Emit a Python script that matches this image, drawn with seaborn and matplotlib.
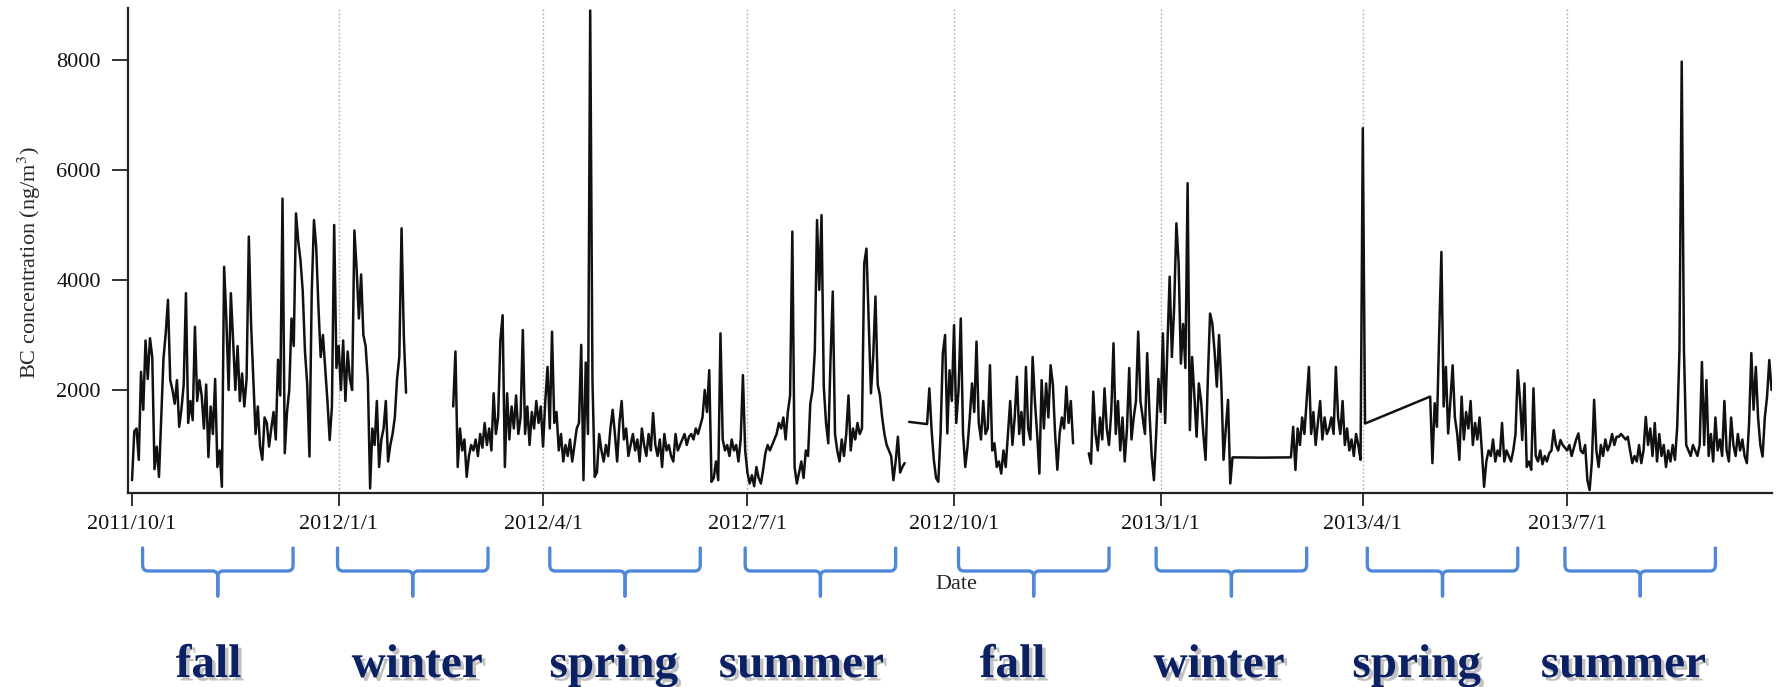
import matplotlib
matplotlib.use("Agg")
import matplotlib.pyplot as plt
import matplotlib.dates as mdates
import matplotlib.patheffects as pe
import matplotlib.transforms as mtransforms
from matplotlib.path import Path
from matplotlib.patches import PathPatch
import numpy as np
import pandas as pd
import seaborn as sns

nan = np.nan

# daily BC concentration (ng/m3); each segment is one unbroken trace
seg1_start = "2011-10-01"
seg1_bc = [
    360, 1250, 1300, 730, 2330, 1640, 2900, 2200, 2940, 2600,
    560, 970, 420, 1500, 2575, 3030, 3640, 2180, 2000, 1750,
    2180, 1330, 1650, 2100, 3760, 1400, 1800, 1450, 3150, 1800,
    2180, 1900, 1300, 2100, 780, 1700, 1200, 2200, 600, 900,
    240, 4240, 3270, 2000, 3760, 2900, 2000, 2800, 1800, 2300,
    1700, 2200, 4790, 3200, 2200, 1200, 1700, 970, 730, 1500,
    1400, 970, 1300, 1600, 1100, 2550, 1900, 5480, 850, 1600,
    2000, 3300, 2800, 5210, 4700, 4360, 3800, 2700, 2100, 790,
    3760, 5090, 4600, 3500, 2600, 3000, 2400, 1800, 1090, 1700,
    5000, 2400, 2800, 2000, 2900, 1800, 2700, 2200, 2000, 4900,
    4200, 3300, 4100, 3000, 2800, 2180, 210, 1300, 1000, 1800,
    600, 1100, 1300, 1800, 700, 1000, 1200, 1500, 2200, 2600,
    4940, 3000, 1950,
]

seg2_start = "2012-02-21"
seg2_bc = [
    1700, 2700, 600, 1300, 900, 1100, 420, 800, 1000, 900,
    1100, 800, 1200, 950, 1400, 1000, 1300, 900, 1940, 1200,
    1500, 2900, 3360, 600, 1940, 1100, 1700, 1300, 1900, 1200,
    1500, 3090, 1200, 1700, 1000, 1600, 1300, 1800, 1400, 1700,
    970, 1800, 2420, 1300, 3060, 1400, 1600, 900, 1200, 700,
    1000, 800, 1100, 700, 1000, 1300, 1400, 2820, 360, 2500,
    1200, 8900, 2180, 420, 500, 1200, 900, 700, 1000, 800,
    1300, 1640, 1200, 700, 1400, 1800, 1100, 1300, 800, 1000,
    1200, 900, 1100, 700, 1300, 1000, 800, 1200, 900, 1580,
    1000, 800, 1100, 600, 1200, 900, 1000, 800, 700, 1200,
    900, 1000, 1100, 1200, 1000, 1150, 1200, 1100, 1300, 1200,
    1350, 1500, 2000, 1600, 2360, 330, 400, 700, 360, 3030,
    1100, 900, 1000, 800, 1100, 900, 1000, 700, 1100, 2270,
    900, 500, 300, 450, 250, 600, 400, 300, 550, 850,
    1000, 900, 1000, 1100, 1200, 1400, 1300, 1500, 1100, 1600,
    1900, 4880, 600, 300, 500, 700, 400, 900, 800, 1750,
    2000, 2700, 5090, 3820, 5180, 2060, 1400, 1030, 2550, 3790,
    1200, 900, 700, 1100, 800, 1200, 1900, 900, 1300, 1100,
    1400, 1200, 1300, 4300, 4570, 3240, 1940, 2600, 3700, 2100,
    1900, 1500, 1200, 1000, 900, 800, 360, 700, 1150, 500,
    600, 670,
]

seg3_start = "2012-09-11"
seg3_bc = [1420] + [nan] * 7 + [1380] + [
    2030, 1270, 730, 400, 330, 1210, 2670, 3000, 1210, 2360,
    1800, 3180, 1400, 2000, 3300, 1210, 600, 970, 1500, 2120,
    1600, 2880, 1400, 1100, 1800, 1200, 1300, 2450, 900, 1030,
    600, 700, 480, 900, 600, 1200, 1800, 1000, 1500, 2240,
    1200, 1600, 1000, 2420, 1300, 1100, 2600, 1800, 1200, 480,
    2180, 1300, 2120, 1500, 2450, 2100, 1200, 550, 1200, 1500,
    1300, 2060, 1400, 1800, 1030,
]

seg4_start = "2012-11-30"
seg4_bc = [
    850, 660, 1970, 1200, 900, 1500, 1100, 2030, 1300, 1000,
    1600, 2850, 1200, 1800, 900, 1500, 700, 1300, 2400, 1100,
    1500, 1800, 3060, 1800, 1500, 1200, 2670, 1600, 800, 360,
    1200, 2200, 1600, 3030, 1400, 2800, 4060, 2600, 3500, 5030,
    4300, 2480, 3200, 2400, 5760, 1270, 2600, 1900, 1150, 2120,
    1800, 1200, 730, 2200, 3390, 3210, 2700, 2060, 3000, 2120,
    730, 1300, 1820, 300,
] + [775] + [nan] * 12 + [770] + [nan] * 12 + [775] + [
    1330, 545, 1300, 1000, 1500, 1200, 1800, 2420, 1200, 1600,
    1000, 1400, 1800, 1100, 1500, 1200, 1300, 1500, 1200, 2420,
    1500, 1200, 1800, 1000, 1300, 900, 1100, 800, 1200, 1000, 730,
    6760, 1390,
] + [nan] * 28 + [1880] + [
    670, 1760, 1330, 3000, 4510, 1700, 2420, 1210, 1800, 2450,
    1500, 1210, 730, 1880, 1100, 1600, 1300, 1800, 1000, 1400,
    1100, 1500, 900, 240, 700, 900, 800, 1100, 700, 900,
    800, 1400, 700, 900, 800, 700, 900, 1200, 2360, 1820,
    1090, 2120, 600, 700, 550, 2030, 800, 700, 900, 650,
    800, 700, 850, 900, 1270, 1000, 900, 1090, 1000, 950,
    900, 1000, 800, 950, 1100, 1210, 900, 850, 1000, 360,
    180, 700, 1820, 900, 600, 1000, 800, 1100, 900, 1000,
    1200, 1000, 1150, 1150, 1200, 1150, 1100, 1150, 900, 670,
    800, 700, 1000, 670, 900, 1510, 1000, 1300, 800, 1400,
    700, 1200, 800, 1000, 600, 900, 700, 1000, 730, 1330,
    2730, 7970, 2730, 1000, 900, 800, 1000, 900, 800, 1000,
    2510, 1000, 2180, 800, 1200, 700, 1500, 900, 1100, 800,
    1800, 900, 700, 1500, 1000, 800, 1200, 900, 1100, 800,
    670, 1400, 2670, 1640, 2420, 1500, 1000, 790, 1500, 1880, 2545, 2000,
]

tick_dates = ["2011-10-01", "2012-01-01", "2012-04-01", "2012-07-01",
              "2012-10-01", "2013-01-01", "2013-04-01", "2013-07-01"]
tick_labels = ["2011/10/1", "2012/1/1", "2012/4/1", "2012/7/1",
               "2012/10/1", "2013/1/1", "2013/4/1", "2013/7/1"]
seasons = ["fall", "winter", "spring", "summer", "fall", "winter", "spring", "summer"]

# build long table, one unit per unbroken segment
frames = []
for i, (start, vals) in enumerate([(seg1_start, seg1_bc), (seg2_start, seg2_bc),
                                   (seg3_start, seg3_bc), (seg4_start, seg4_bc)]):
    frames.append(pd.DataFrame({
        "date": pd.date_range(start, periods=len(vals), freq="D"),
        "bc": vals,
        "segment": i,
    }))
df = pd.concat(frames).dropna()

sns.set_theme(style="ticks")
plt.rcParams["font.family"] = ["Liberation Serif", "DejaVu Serif"]
plt.rcParams["mathtext.fontset"] = "stix"

fig = plt.figure(figsize=(17.77, 6.87), dpi=100)
W, H = 1777, 687
ax = fig.add_axes([128 / W, 1 - 493 / H, (1772 - 128) / W, (493 - 8) / H])

sns.lineplot(data=df, x="date", y="bc", units="segment", estimator=None,
             color="#111111", lw=1.8, ax=ax, legend=False)

t0 = pd.Timestamp(tick_dates[0])
ax.set_xlim(t0 - pd.Timedelta(days=1.8), t0 + pd.Timedelta(days=730.2))
ax.set_ylim(127, 8945)

ticks = pd.to_datetime(tick_dates)
ax.set_xticks(ticks)
ax.set_xticklabels(tick_labels)
ax.set_yticks([2000, 4000, 6000, 8000])
ax.tick_params(axis="x", direction="out", length=9.5, width=1.2, pad=6,
               labelsize=16, colors="#111111")
ax.tick_params(axis="y", direction="out", length=11.5, width=1.2, pad=8,
               labelsize=16, colors="#111111")

for t in ticks[1:]:
    ax.axvline(t, color="#a9a9c2", lw=1.0, ls=(0, (1.2, 1.6)), zorder=0)

sns.despine(ax=ax)
for side in ["left", "bottom"]:
    ax.spines[side].set_linewidth(1.6)
    ax.spines[side].set_color("#222222")

ax.set_ylabel("BC concentration (ng/m$^{3}$)", fontsize=16)
ax.yaxis.set_label_coords(-0.052, 0.474)
ax.set_xlabel("Date", fontsize=16)
ax.xaxis.set_label_coords(0.5036, -0.169)

# season braces and labels below the axis
blend = mtransforms.blended_transform_factory(ax.transData, fig.transFigure)
brace_nudge = [4.7, -0.5, 3, -1, 2, -2, 2, -1]   # days from season start
label_offset = [34, 35, 31.5, 24, 26, 26, 24, 25]
brace_len = 67
y_top, y_bar, y_tip = 1 - 548 / H, 1 - 571 / H, 1 - 596 / H
ry = 6 / H
rx = 2.4

for t, name, nudge, loff in zip(ticks, seasons, brace_nudge, label_offset):
    x0 = mdates.date2num(t + pd.Timedelta(days=nudge))
    x1 = x0 + brace_len
    xc = (x0 + x1) / 2
    for a, s in [(x0, 1), (x1, -1)]:
        verts = [(a, y_top), (a, y_bar + ry), (a, y_bar), (a + s * rx, y_bar),
                 (xc - s * rx, y_bar), (xc, y_bar), (xc, y_bar - ry), (xc, y_tip)]
        codes = [Path.MOVETO, Path.LINETO, Path.CURVE3, Path.CURVE3,
                 Path.LINETO, Path.CURVE3, Path.CURVE3, Path.LINETO]
        ax.add_patch(PathPatch(Path(verts, codes), transform=blend, fill=False,
                               ec="#4f88d8", lw=2.4, clip_on=False,
                               capstyle="round", joinstyle="round"))
    lx = mdates.date2num(t + pd.Timedelta(days=loff))
    fig.text(lx, 1 - 677 / H, name, transform=blend, ha="center", va="baseline",
             fontsize=34, fontweight="bold", color="#0b2163",
             path_effects=[pe.withSimplePatchShadow(offset=(2.5, -2.5),
                                                    shadow_rgbFace="#777777",
                                                    alpha=0.45)])

fig.savefig("out.png", dpi=100)
